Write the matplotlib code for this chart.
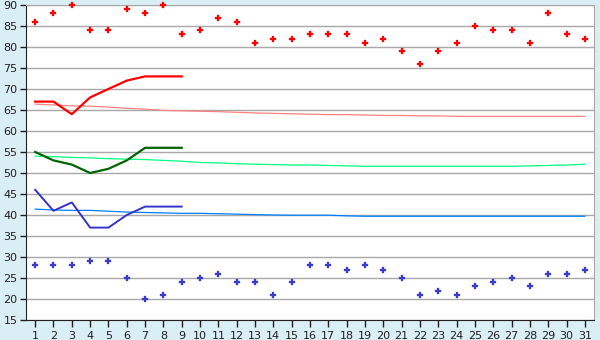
import numpy as np
import matplotlib
matplotlib.use('Agg')
from matplotlib import pyplot as plt

days = list(range(1, 32))

# daily max / min (markers)
max_temp = [86, 88, 90, 84, 84, 89, 88, 90, 83, 84, 87, 86, 81, 82, 82, 83,
            83, 83, 81, 82, 79, 76, 79, 81, 85, 84, 84, 81, 88, 83, 82]
min_temp = [28, 28, 28, 29, 29, 25, 20, 21, 24, 25, 26, 24, 24, 21, 24, 28,
            28, 27, 28, 27, 25, 21, 22, 21, 23, 24, 25, 23, 26, 26, 27]

# forecast lines, first 9 days
fc_days = list(range(1, 10))
fc_high = [67, 67, 64, 68, 70, 72, 73, 73, 73]
fc_mean = [55, 53, 52, 50, 51, 53, 56, 56, 56]
fc_low = [46, 41, 43, 37, 37, 40, 42, 42, 42]

# normals
norm_high = [66.4, 66.2, 66.0, 65.9, 65.7, 65.4, 65.2, 64.9, 64.8, 64.7, 64.6,
             64.45, 64.3, 64.2, 64.1, 64.0, 63.9, 63.9, 63.8, 63.7, 63.7, 63.6,
             63.6, 63.5, 63.5, 63.5, 63.5, 63.5, 63.5, 63.5, 63.5]
norm_mean = [54.0, 53.9, 53.7, 53.6, 53.4, 53.3, 53.2, 53.0, 52.8, 52.5, 52.4,
             52.2, 52.1, 52.0, 51.9, 51.9, 51.8, 51.7, 51.6, 51.6, 51.6, 51.6,
             51.6, 51.6, 51.6, 51.6, 51.6, 51.7, 51.8, 51.9, 52.1]
norm_low = [41.4, 41.2, 41.1, 41.1, 40.9, 40.7, 40.6, 40.5, 40.4, 40.4, 40.3,
            40.2, 40.1, 40.0, 39.95, 39.95, 39.95, 39.8, 39.7, 39.7, 39.7, 39.7,
            39.7, 39.7, 39.7, 39.7, 39.7, 39.7, 39.7, 39.7, 39.7]

bg = '#daeef5'
fig = plt.figure(figsize=(6, 3.4), dpi=100, facecolor=bg)
ax = fig.add_axes([26 / 600, 1 - 320 / 340, 568 / 600, 315 / 340])
ax.set_facecolor('white')

ax.plot(days, norm_high, color='#ff8080', lw=0.9)
ax.plot(days, norm_mean, color='#00ff80', lw=0.9)
ax.plot(days, norm_low, color='#0080ff', lw=0.9)

ax.plot(fc_days, fc_high, color='#ff0000', lw=1.6)
ax.plot(fc_days, fc_mean, color='#006400', lw=1.6)
ax.plot(fc_days, fc_low, color='#3333cc', lw=1.4)

ax.plot(days, max_temp, ls='none', marker='P', ms=4.8, color='#ff0000',
        mec='#ff0000', mew=0.2, clip_on=False, zorder=5)
ax.plot(days, min_temp, ls='none', marker='P', ms=4.8, color='#3a3acc',
        mec='#3a3acc', mew=0.2, clip_on=False, zorder=5)

ax.set_xlim(0.5, 31.5)
ax.set_ylim(15, 90)
ax.set_xticks(days)
ax.set_yticks(np.arange(15, 91, 5))
ax.yaxis.grid(True, color='#a8a8a8', lw=1)
ax.set_axisbelow(True)

for s in ['top', 'right']:
    ax.spines[s].set_color('#a8a8a8')
for s in ['left', 'bottom']:
    ax.spines[s].set_color('#202020')
ax.tick_params(axis='both', labelsize=8, colors='#202020', length=4,
               width=1, pad=2)
ax.tick_params(axis='x', length=5, pad=3)

fig.savefig('out.png', dpi=100, facecolor=bg)
